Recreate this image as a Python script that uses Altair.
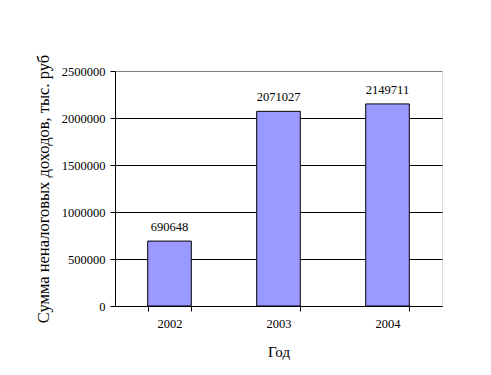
import altair as alt
import pandas as pd

years = ["2002", "2003", "2004"]
values = [690648, 2071027, 2149711]

df = pd.DataFrame({"year": years, "value": values})

font = "Times New Roman, Liberation Serif, DejaVu Serif, serif"

base = alt.Chart(df).encode(
    x=alt.X("year:N", sort=years,
            scale=alt.Scale(paddingInner=0.6, paddingOuter=0.3),
            axis=alt.Axis(title="Год", labelAngle=0, labelFontSize=12.5, titleFontSize=15,
                          labelFont=font, titleFont=font, labelColor="black", titleColor="black",
                          titleFontWeight="normal", domainColor="black", tickColor="black",
                          tickBand="extent", tickSize=5, labelPadding=6, titlePadding=15,
                          grid=False)),
)

bars = base.mark_bar(color="#9999FF", stroke="black", strokeWidth=1).encode(
    y=alt.Y("value:Q",
            scale=alt.Scale(domain=[0, 2500000], nice=False),
            axis=alt.Axis(title="Сумма неналоговых доходов, тыс. руб", values=[0, 500000, 1000000, 1500000, 2000000, 2500000],
                          format="d", labelFontSize=12.5, titleFontSize=16.5, labelFont=font, titleFont=font,
                          labelColor="black", titleColor="black", titleFontWeight="normal",
                          domainColor="black", tickColor="black", tickSize=5, labelPadding=5,
                          titlePadding=10,
                          gridColor={"condition": {"test": "datum.value >= 2500000", "value": "#808080"}, "value": "black"},
                          gridOpacity=1, gridWidth=1)),
)

labels = base.mark_text(baseline="bottom", dy=-7, font=font, fontSize=12.5, color="black").encode(
    y="value:Q",
    text=alt.Text("value:Q", format="d"),
)

chart = (bars + labels).properties(
    width=327, height=235,
    autosize=alt.AutoSizeParams(type="none"),
    padding={"left": 107, "top": 63, "right": 40, "bottom": 60},
).configure_view(stroke="#808080", strokeWidth=1).configure(background="white")

chart.save("out.html", embed_options={"renderer": "svg", "actions": False})
